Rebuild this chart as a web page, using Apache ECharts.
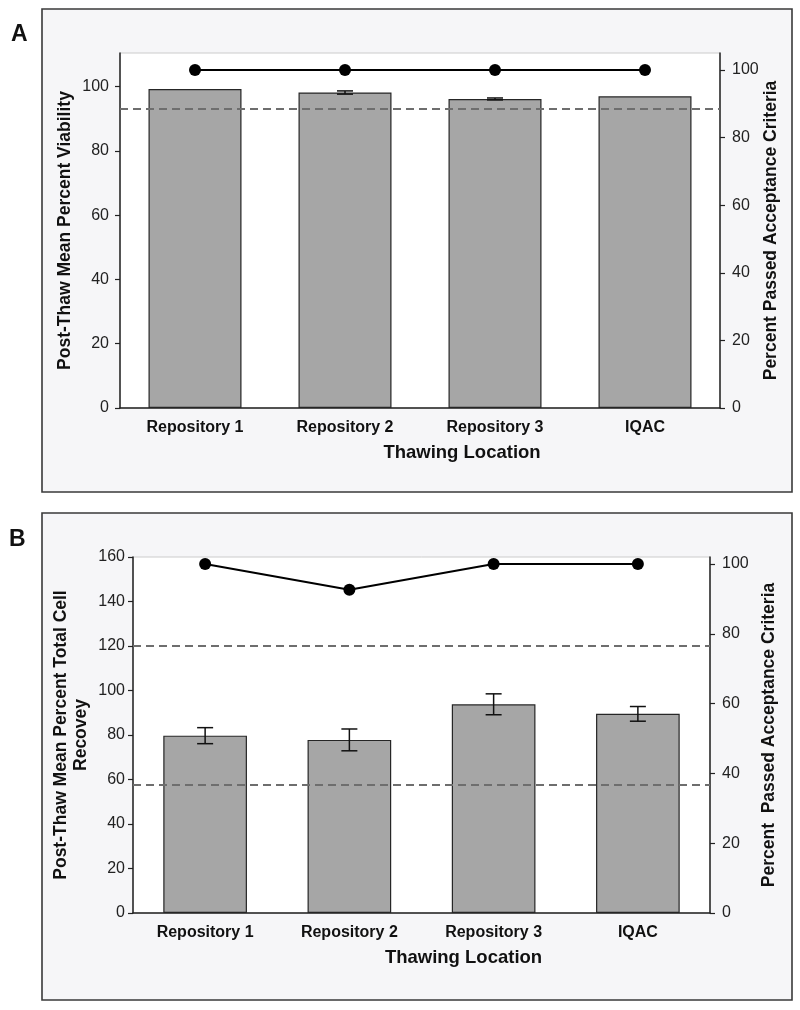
<!DOCTYPE html>
<html>
<head>
<meta charset="utf-8">
<script src="https://cdn.jsdelivr.net/npm/echarts@6/dist/echarts.min.js"></script>
<style>
  html, body { margin: 0; padding: 0; background: #fff; }
  #chart { width: 800px; height: 1010px; }
</style>
</head>
<body>
<div id="chart"></div>
<script>
const locations = ['Repository 1', 'Repository 2', 'Repository 3', 'IQAC'];

// panel A - viability
const viabilityMean = [99.3, 98.2, 96.2, 97.0];
const viabilityErr = [0, 0.5, 0.3, 0];
const viabilityPassed = [100, 100, 100, 100];
const viabilityCutoff = 93.3;

// panel B - total cell recovery
const recoveryMean = [79.7, 77.8, 93.8, 89.5];
const recoveryErr = [3.6, 4.9, 4.7, 3.3];
const recoveryPassed = [100, 92.6, 100, 100];
const recoveryCutoffs = [120.3, 57.6];

// tick labels
const ticksViability = [0, 20, 40, 60, 80, 100];
const ticksRecovery = [0, 20, 40, 60, 80, 100, 120, 140, 160];
const ticksPassed = [0, 20, 40, 60, 80, 100];

const FONT = "'Liberation Sans', Arial, sans-serif";

function errorBars(params, api) {
  const i = api.value(0), m = api.value(1), e = api.value(2);
  if (!e) return null;
  const hi = api.coord([i, m + e]);
  const lo = api.coord([i, m - e]);
  const w = 8;
  const style = { stroke: '#111', lineWidth: 1.5 };
  return {
    type: 'group',
    children: [
      { type: 'line', shape: { x1: hi[0], y1: hi[1], x2: lo[0], y2: lo[1] }, style: style },
      { type: 'line', shape: { x1: hi[0] - w, y1: hi[1], x2: hi[0] + w, y2: hi[1] }, style: style },
      { type: 'line', shape: { x1: lo[0] - w, y1: lo[1], x2: lo[0] + w, y2: lo[1] }, style: style }
    ]
  };
}

function xAxisFor(gridIndex) {
  return {
    type: 'category',
    gridIndex: gridIndex,
    data: locations,
    axisLine: { lineStyle: { color: '#222', width: 1.5 } },
    axisTick: { show: false },
    axisLabel: { color: '#111', fontFamily: FONT, fontWeight: 'bold', fontSize: 16, margin: 12 },
    name: 'Thawing Location',
    nameLocation: 'middle',
    nameGap: 35,
    nameMoveOverlap: false,
    nameTextStyle: { color: '#111', fontFamily: FONT, fontWeight: 'bold', fontSize: 18.5, padding: [0, 0, 0, 84] }
  };
}

function yAxisFor(gridIndex, pos, max, ticks, name, gap, margin) {
  return {
    type: 'value',
    gridIndex: gridIndex,
    position: pos,
    min: 0,
    max: max,
    interval: 20,
    splitLine: { show: false },
    axisLine: { show: true, lineStyle: { color: '#222', width: 1.5 } },
    axisTick: { show: true, length: 5, customValues: ticks, lineStyle: { color: '#222', width: 1.2 } },
    axisLabel: { color: '#222', fontFamily: FONT, fontSize: 16, margin: margin, customValues: ticks },
    name: name,
    nameLocation: 'middle',
    nameRotate: 90,
    nameGap: gap,
    nameMoveOverlap: false,
    nameTextStyle: { color: '#111', fontFamily: FONT, fontWeight: 'bold', fontSize: 17.5, lineHeight: 20 }
  };
}

const dashStyle = { type: [8, 5], color: '#6e6e6e', width: 2 };
const barStyle = { color: '#a6a6a6', borderColor: '#262626', borderWidth: 1.2 };
const lineStyle = { color: '#000', width: 2 };

const chart = echarts.init(document.getElementById('chart'));
chart.setOption({
  animation: false,
  graphic: [
    { type: 'rect', z: -10, shape: { x: 42, y: 9, width: 750, height: 483 }, style: { fill: '#f6f6f8', stroke: '#3a3a3a', lineWidth: 1.6 } },
    { type: 'rect', z: -10, shape: { x: 42, y: 513, width: 750, height: 487 }, style: { fill: '#f6f6f8', stroke: '#3a3a3a', lineWidth: 1.6 } },
    { type: 'text', x: 11, y: 23, style: { text: 'A', fill: '#111', font: "bold 23px 'Liberation Sans', Arial, sans-serif" } },
    { type: 'text', x: 9, y: 528, style: { text: 'B', fill: '#111', font: "bold 23px 'Liberation Sans', Arial, sans-serif" } }
  ],
  grid: [
    { left: 120, top: 53, right: 80, bottom: 602, show: true, backgroundColor: '#fff', borderColor: '#ccc', borderWidth: 1, outerBoundsMode: 'none' },
    { left: 133, top: 557, right: 90, bottom: 97, show: true, backgroundColor: '#fff', borderColor: '#ccc', borderWidth: 1, outerBoundsMode: 'none' }
  ],
  xAxis: [xAxisFor(0), xAxisFor(1)],
  yAxis: [
    yAxisFor(0, 'left', 110.5, ticksViability, 'Post-Thaw Mean Percent Viability', 45, 11),
    yAxisFor(0, 'right', 105, ticksPassed, 'Percent Passed Acceptance Criteria', 41, 12),
    yAxisFor(1, 'left', 160, ticksRecovery, 'Post-Thaw Mean Percent Total Cell\nRecovey', 42, 8),
    yAxisFor(1, 'right', 102, ticksPassed, 'Percent  Passed Acceptance Criteria', 49, 12)
  ],
  series: [
    {
      type: 'bar', xAxisIndex: 0, yAxisIndex: 0, barWidth: '62%',
      data: viabilityMean, itemStyle: barStyle,
      markLine: { silent: true, symbol: 'none', label: { show: false }, lineStyle: dashStyle, data: [{ yAxis: viabilityCutoff }] }
    },
    {
      type: 'custom', xAxisIndex: 0, yAxisIndex: 0, renderItem: errorBars, z: 3,
      encode: { x: 0, y: 1 },
      data: viabilityMean.map((m, i) => [i, m, viabilityErr[i]])
    },
    {
      type: 'line', xAxisIndex: 0, yAxisIndex: 1, data: viabilityPassed, z: 5,
      symbol: 'circle', symbolSize: 12, lineStyle: lineStyle, itemStyle: { color: '#000' }
    },
    {
      type: 'bar', xAxisIndex: 1, yAxisIndex: 2, barWidth: '58%',
      data: recoveryMean, itemStyle: barStyle,
      markLine: { silent: true, symbol: 'none', label: { show: false }, lineStyle: dashStyle,
        data: recoveryCutoffs.map(v => ({ yAxis: v })) }
    },
    {
      type: 'custom', xAxisIndex: 1, yAxisIndex: 2, renderItem: errorBars, z: 3,
      encode: { x: 0, y: 1 },
      data: recoveryMean.map((m, i) => [i, m, recoveryErr[i]])
    },
    {
      type: 'line', xAxisIndex: 1, yAxisIndex: 3, data: recoveryPassed, z: 5,
      symbol: 'circle', symbolSize: 12, lineStyle: lineStyle, itemStyle: { color: '#000' }
    }
  ]
});
</script>
</body>
</html>
